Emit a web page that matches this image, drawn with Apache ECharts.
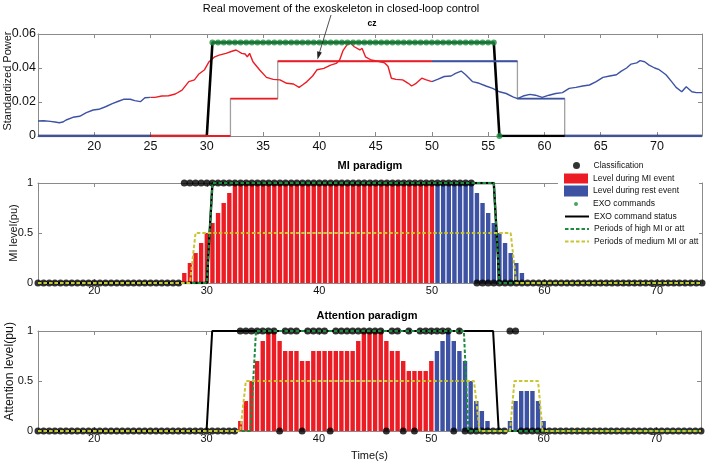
<!DOCTYPE html>
<html>
<head>
<meta charset="utf-8">
<script src="https://cdn.jsdelivr.net/npm/echarts@6.0.0/dist/echarts.min.js"></script>
<style>
html,body{margin:0;padding:0;background:#ffffff;}
#chart{width:708px;height:464px;}
</style>
</head>
<body>
<div id="chart"></div>
<script>
// ======================= DATA =======================
const timeMin = 15, timeMax = 74;
const sampleStep = 0.5;                    // s between classifier outputs / bars
const miEventStart = 25, miEventEnd = 50;  // MI event window (top panel colouring)

const topXTicks = [20, 25, 30, 35, 40, 45, 50, 55, 60, 65, 70];
const lowXTicks = [20, 30, 40, 50, 60, 70];
const topYMax = 0.06, topYStep = 0.02;
const lowYMax = 1, lowYStep = 0.5;

// Cz standardized power (top panel)
const powerTime = [15.0,15.5,16.1,16.5,16.9,17.2,17.5,18.1,18.7,19.3,19.9,20.4,21.0,21.6,22.2,22.6,23.2,23.6,24.1,24.5,25.0,
  25.4,26.0,26.6,27.2,27.8,28.4,28.9,29.3,29.8,30.2,30.7,31.1,31.7,32.3,32.6,33.1,33.4,33.6,33.8,34.1,34.7,35.3,35.9,36.5,37.1,37.7,38.2,38.5,38.9,39.4,39.8,40.4,41.0,41.5,41.8,42.1,42.5,42.8,43.1,43.6,43.8,44.1,44.6,45.2,45.8,46.1,46.4,46.8,47.4,47.9,48.2,48.6,49.1,49.5,50.0,
  50.5,51.1,51.7,52.1,52.6,53.0,53.6,54.2,54.8,55.4,56.0,56.6,57.2,57.6,58.1,58.7,59.2,59.8,60.4,61.0,61.6,62.2,62.8,63.4,64.0,64.6,65.2,65.8,66.4,66.8,67.3,67.7,68.2,68.5,68.9,69.3,69.8,70.2,70.8,71.3,71.7,72.2,72.6,73.1,73.5,74.0];
const powerValue = [0.0088,0.0090,0.0086,0.0082,0.0078,0.0082,0.0094,0.0110,0.0116,0.0137,0.0153,0.0157,0.0172,0.0190,0.0206,0.0216,0.0216,0.0208,0.0202,0.0225,0.0227,
  0.0227,0.0235,0.0237,0.0247,0.0270,0.0320,0.0330,0.0365,0.0390,0.0437,0.0466,0.0476,0.0486,0.0500,0.0506,0.0486,0.0482,0.0466,0.0486,0.0437,0.0388,0.0345,0.0333,0.0330,0.0310,0.0306,0.0286,0.0300,0.0320,0.0353,0.0390,0.0398,0.0417,0.0427,0.0447,0.0502,0.0540,0.0545,0.0525,0.0506,0.0515,0.0466,0.0447,0.0440,0.0430,0.0410,0.0340,0.0333,0.0330,0.0310,0.0294,0.0310,0.0340,0.0330,0.0320,
  0.0333,0.0350,0.0353,0.0368,0.0382,0.0360,0.0320,0.0310,0.0294,0.0280,0.0260,0.0250,0.0230,0.0220,0.0235,0.0245,0.0240,0.0227,0.0240,0.0250,0.0255,0.0280,0.0286,0.0294,0.0300,0.0320,0.0345,0.0353,0.0360,0.0380,0.0400,0.0423,0.0430,0.0443,0.0437,0.0417,0.0400,0.0390,0.0360,0.0320,0.0286,0.0260,0.0290,0.0260,0.0255,0.0255];

// Exoskeleton position level (step) in the top panel
const levelEdges = [15, 32.1, 36.3, 57.6, 61.8, 74];
const levelValues = [0, 0.022, 0.044, 0.022, 0];

// EXO command status (all panels) and EXO commands (top panel)
const exoStatusTime = [15, 30, 30.5, 55.5, 56, 74];
const exoStatusOn = [0, 0, 1, 1, 0, 0];
const exoTopLevel = 0.055;
const exoCmdTime = [30.5,31,31.5,32,32.5,33,33.5,34,34.5,35,35.5,36,36.5,37,37.5,38,38.5,39,39.5,40,40.5,41,41.5,42,42.5,43,43.5,44,44.5,45,45.5,46,46.5,47,47.5,48,48.5,49,49.5,50,50.5,51,51.5,52,52.5,53,53.5,54,54.5,55,55.5];
const exoCmdOffTime = [56];

// MI paradigm: classification (one value per sampleStep from timeMin)
const miClass = [0,0,0,0,0,0,0,0,0,0, 0,0,0,0,0,0,0,0,0,0, 0,0,0,0,0,0,
  1,1,1,1,1,1,1,1,1,1, 1,1,1,1,1,1,1,1,1,1, 1,1,1,1,1,1,1,1,1,1, 1,1,1,1,1,1,1,1,1,1, 1,1,1,1,1,1,1,1,1,1, 1,1,
  0,0,0,0,0,0,0,0,0,0, 0,0,0,0,0,0,0,0,0,0, 0,0,0,0,0,0,0,0,0,0, 0,0,0,0,0,0,0,0,0,0, 0];
const miBarMIStart = 28;
const miBarMI = [0.1,0.2,0.3,0.4,0.5,0.6,0.7,0.8,0.9, 1,1,1,1,1,1,1,1,1,1, 1,1,1,1,1,1,1,1,1,1, 1,1,1,1,1,1,1,1,1,1, 1,1,1,1,1,1];
const miBarRestStart = 50.5;
const miBarRest = [1,1,1,1,1,1,1,0.9,0.8,0.7,0.6,0.5,0.4,0.3,0.2,0.1];
const miHighTime = [15, 30, 30.5, 55.5, 56, 74];
const miHighVal = [0, 0, 1, 1, 0, 0];
const miMedTime = [15, 28.5, 29, 57, 57.5, 74];
const miMedVal = [0, 0, 0.5, 0.5, 0, 0];

// Attention paradigm
const attClass = [0,0,0,0,0,0,0,0,0,0, 0,0,0,0,0,0,0,0,0,0, 0,0,0,0,0,0,0,0,0,0, 0,0,0,0,0,0,
  1,1,1,1,1,1,1, 0, 1,1,1, 0, 1,1,1,1, 0, 1,1,1,1,1,1,1,1,1, 0, 1,1, 0, 1, 0, 1,1,1,1,1,1, 0, 1,
  0,0,0,0,0,0,0,0, 1,1,
  0,0,0,0,0,0,0,0,0,0, 0,0,0,0,0,0,0,0,0,0, 0,0,0,0,0,0,0,0,0,0, 0,0,0];
const attBarMIStart = 33;
const attBarMI = [0.1,0.3,0.5,0.7,0.9,1,1,0.9,0.8,0.8, 0.8,0.7,0.7,0.8,0.8,0.8,0.8,0.8,0.8,0.8, 0.8,0.9,1,1,1,1,0.9,0.8,0.8,0.7, 0.6,0.6,0.6,0.6,0.7];
const attBarRest1Start = 50.5;
const attBarRest1 = [0.8,0.9,1,0.9,0.8,0.7,0.5,0.3,0.2,0.1];
const attBarRest2Start = 57;
const attBarRest2 = [0.1,0.3,0.4,0.4,0.4,0.3,0.1];
const attHighTime = [15, 33.9, 34.4, 52.9, 53.3, 74];
const attHighVal = [0, 0, 1, 1, 0, 0];
const attMedTime = [15, 33, 33.5, 53.8, 54.3, 57, 57.4, 59.5, 59.9, 74];
const attMedVal = [0, 0, 0.5, 0.5, 0, 0, 0.5, 0.5, 0, 0];

// ======================= STYLE =======================
const FONT = '"Liberation Sans", Arial, Helvetica, sans-serif';
const C_RED = '#EC1C24', C_BLUE = '#3D52A3', C_GREEN = '#1C8C3E', C_YEL = '#C8C632',
      C_GREY = '#a0a0a0', C_AXIS = '#8a8a8a', C_TXT = '#111111';

const N = {
  cls: 'Classification', mi: 'Level during MI event', rest: 'Level during rest event',
  cmd: 'EXO commands', status: 'EXO command status',
  high: 'Periods of high MI or att', med: 'Periods of medium MI or att'
};

// ======================= HELPERS =======================
const pairs = (ts, vs, k) => ts.map((t, i) => [t, vs[i] * (k == null ? 1 : k)]);
const sampled = (start, vals) => vals.map((v, i) => [start + i * sampleStep, v]);

function lineS(name, data, g, color, width, z, dash) {
  return {
    type: 'line', name: name, xAxisIndex: g * 2, yAxisIndex: g * 2, data: data,
    symbol: 'none', showSymbol: false, silent: true, z: z, animation: false,
    lineStyle: { color: color, width: width, type: dash ? [3.5, 2] : 'solid' },
    itemStyle: { color: color }
  };
}
function scatterS(name, data, g, color, size, z) {
  return {
    type: 'scatter', name: name, xAxisIndex: g * 2, yAxisIndex: g * 2, data: data,
    symbol: 'circle', symbolSize: size, itemStyle: { color: color }, z: z, silent: true, animation: false
  };
}
function barS(name, data, g, color) {
  return {
    type: 'bar', name: name, xAxisIndex: g * 2, yAxisIndex: g * 2, data: data,
    barWidth: 4.4, barGap: '-100%', itemStyle: { color: color }, z: 2, silent: true, animation: false
  };
}

const grids = [
  { left: 38, right: 6, top: 34, height: 102 },
  { left: 38, right: 6, top: 183, height: 100 },
  { left: 38, right: 7, top: 331, height: 100 }
];
grids.forEach(g => { g.outerBoundsMode = 'none'; g.containLabel = false; });

const xAxes = [], yAxes = [];
function addAxes(g, cfg) {
  const lineSt = { show: true, onZero: false, lineStyle: { color: C_AXIS, width: 1 } };
  const tickSt = { show: true, inside: true, length: 4, lineStyle: { color: C_AXIS } };
  xAxes.push({
    type: 'value', gridIndex: g, position: 'bottom', min: timeMin, max: timeMax,
    axisLine: lineSt, axisTick: Object.assign({}, tickSt, { customValues: cfg.xTicks }),
    axisLabel: { customValues: cfg.xTicks, margin: cfg.xMargin, fontSize: cfg.font, fontFamily: FONT, color: C_TXT },
    splitLine: { show: false },
    name: cfg.xName || '', nameLocation: 'middle', nameGap: 19, nameMoveOverlap: false,
    nameTextStyle: { fontSize: 11, fontFamily: FONT, color: C_TXT }
  });
  xAxes.push({
    type: 'value', gridIndex: g, position: 'top', min: timeMin, max: timeMax,
    axisLine: lineSt, axisTick: Object.assign({}, tickSt, { customValues: cfg.xTicks }),
    axisLabel: { show: false }, splitLine: { show: false }
  });
  yAxes.push({
    type: 'value', gridIndex: g, position: 'left', min: 0, max: cfg.yMax, interval: cfg.yStep,
    axisLine: lineSt, axisTick: tickSt,
    axisLabel: { margin: cfg.yMargin, fontSize: cfg.font, fontFamily: FONT, color: C_TXT },
    splitLine: { show: false },
    name: cfg.yName, nameLocation: 'middle', nameGap: cfg.nameGap, nameMoveOverlap: false,
    nameTextStyle: { fontSize: cfg.nameFont, fontFamily: FONT, color: C_TXT, padding: [0, 0, 0, cfg.namePad] }
  });
  yAxes.push({
    type: 'value', gridIndex: g, position: 'right', min: 0, max: cfg.yMax, interval: cfg.yStep,
    axisLine: lineSt, axisTick: tickSt, axisLabel: { show: false }, splitLine: { show: false }
  });
}
addAxes(0, { xTicks: topXTicks, yMax: topYMax, yStep: topYStep, font: 12.5, xMargin: 4, yMargin: 2,
  yName: 'Standardized Power', nameGap: 25, namePad: 8, nameFont: 11 });
addAxes(1, { xTicks: lowXTicks, yMax: lowYMax, yStep: lowYStep, font: 11, xMargin: 2, yMargin: 5,
  yName: 'MI level(pu)', nameGap: 19, namePad: 0, nameFont: 11 });
addAxes(2, { xTicks: lowXTicks, yMax: lowYMax, yStep: lowYStep, font: 11, xMargin: 2, yMargin: 5,
  yName: 'Attention level(pu)', nameGap: 22, namePad: 19, nameFont: 12.3, xName: 'Time(s)' });

// ======================= SERIES =======================
const series = [];

// --- top panel ---
const stepPts = [];
levelValues.forEach((v, i) => { stepPts.push([levelEdges[i], v]); stepPts.push([levelEdges[i + 1], v]); });
series.push(lineS('', stepPts, 0, C_GREY, 1.3, 2));

const powerPts = pairs(powerTime, powerValue);
series.push(lineS('', powerPts.filter(p => p[0] <= miEventStart), 0, C_BLUE, 1.4, 3));
series.push(lineS('', powerPts.filter(p => p[0] >= miEventStart && p[0] <= miEventEnd), 0, C_RED, 1.4, 3));
series.push(lineS('', powerPts.filter(p => p[0] >= miEventEnd), 0, C_BLUE, 1.4, 3));

series.push(lineS(N.status, pairs(exoStatusTime, exoStatusOn, exoTopLevel), 0, '#000', 2.6, 4));

const phaseEdges = [timeMin, miEventStart, miEventEnd, timeMax];
const phaseColors = [C_BLUE, C_RED, C_BLUE];
levelValues.forEach((v, i) => {
  for (let p = 0; p < 3; p++) {
    const lo = Math.max(levelEdges[i], phaseEdges[p]), hi = Math.min(levelEdges[i + 1], phaseEdges[p + 1]);
    if (hi > lo) series.push(lineS('', [[lo, v], [hi, v]], 0, phaseColors[p], 1.9, 5));
  }
});
series.push(scatterS(N.cmd, exoCmdTime.map(t => [t, exoTopLevel]).concat(exoCmdOffTime.map(t => [t, 0])), 0, C_GREEN, 6, 6));

// --- MI paradigm ---
series.push(barS(N.mi, sampled(miBarMIStart, miBarMI), 1, C_RED));
series.push(barS(N.rest, sampled(miBarRestStart, miBarRest), 1, C_BLUE));
series.push(scatterS(N.cls, sampled(timeMin, miClass), 1, '#000', 7, 3));
series.push(lineS(N.status, pairs(exoStatusTime, exoStatusOn), 1, '#000', 2.4, 4));
series.push(lineS(N.high, pairs(miHighTime, miHighVal), 1, C_GREEN, 2, 5, true));
series.push(lineS(N.med, pairs(miMedTime, miMedVal), 1, C_YEL, 2, 6, true));

// --- Attention paradigm ---
series.push(barS(N.mi, sampled(attBarMIStart, attBarMI), 2, C_RED));
series.push(barS(N.rest, sampled(attBarRest1Start, attBarRest1).concat(sampled(attBarRest2Start, attBarRest2)), 2, C_BLUE));
series.push(scatterS(N.cls, sampled(timeMin, attClass), 2, '#000', 7, 3));
series.push(lineS(N.status, pairs(exoStatusTime, exoStatusOn), 2, '#000', 2, 4));
series.push(lineS(N.high, pairs(attHighTime, attHighVal), 2, C_GREEN, 2, 5, true));
series.push(lineS(N.med, pairs(attMedTime, attMedVal), 2, C_YEL, 2, 6, true));

// ======================= LEGEND =======================
const legendRows = [
  { name: N.cls, y: 166, h: 7, x: 573 },
  { name: N.mi, y: 178.5, h: 10, icon: 'rect', x: 564 },
  { name: N.rest, y: 191, h: 11, icon: 'rect', x: 564 },
  { name: N.cmd, y: 204.5, h: 4, x: 574 },
  { name: N.status, y: 217, h: 10, x: 564, line: true },
  { name: N.high, y: 229.5, h: 10, x: 564, line: true },
  { name: N.med, y: 242, h: 10, x: 564, line: true }
];
const legends = legendRows.map(r => {
  const item = { name: r.name };
  if (r.icon) item.icon = r.icon;
  if (r.line) item.itemStyle = { opacity: 0 };
  return {
    data: [item],
    left: r.x, top: r.y - Math.max(r.h, 10) / 2, orient: 'vertical', padding: 0, itemGap: 0,
    itemWidth: 24, itemHeight: r.h, selectedMode: false, z: 8,
    textStyle: { fontSize: 8.5, fontFamily: FONT, color: C_TXT }
  };
});

// ======================= ANNOTATIONS =======================
const graphic = [
  { type: 'rect', shape: { x: 558, y: 155, width: 141, height: 95 }, style: { fill: '#ffffff' }, z: 7, silent: true },
  { type: 'text', x: 341, y: 9, z: 9, style: { text: 'Real movement of the exoskeleton in closed-loop control',
      fontSize: 11, fontFamily: FONT, fill: '#000', align: 'center', verticalAlign: 'middle' } },
  { type: 'text', x: 372, y: 24, z: 9, style: { text: 'cz', fontSize: 8.5, fontWeight: 'bold', fontFamily: FONT,
      fill: '#000', align: 'center', verticalAlign: 'middle' } },
  { type: 'text', x: 370, y: 166, z: 9, style: { text: 'MI paradigm', fontSize: 11, fontWeight: 'bold', fontFamily: FONT,
      fill: '#000', align: 'center', verticalAlign: 'middle' } },
  { type: 'text', x: 367, y: 316, z: 9, style: { text: 'Attention paradigm', fontSize: 11, fontWeight: 'bold', fontFamily: FONT,
      fill: '#000', align: 'center', verticalAlign: 'middle' } },
  { type: 'line', shape: { x1: 331, y1: 15, x2: 319.3, y2: 53 }, style: { stroke: '#222', lineWidth: 0.8 }, z: 9 },
  { type: 'polygon', shape: { points: [[317.5, 59.5], [321.9, 52.5], [317.1, 51.3]] }, style: { fill: '#222' }, z: 9 }
];

const chart = echarts.init(document.getElementById('chart'), null, { renderer: 'canvas' });
chart.setOption({
  animation: false,
  backgroundColor: '#ffffff',
  textStyle: { fontFamily: FONT },
  grid: grids,
  xAxis: xAxes,
  yAxis: yAxes,
  legend: legends,
  graphic: graphic,
  series: series
});
</script>
</body>
</html>
